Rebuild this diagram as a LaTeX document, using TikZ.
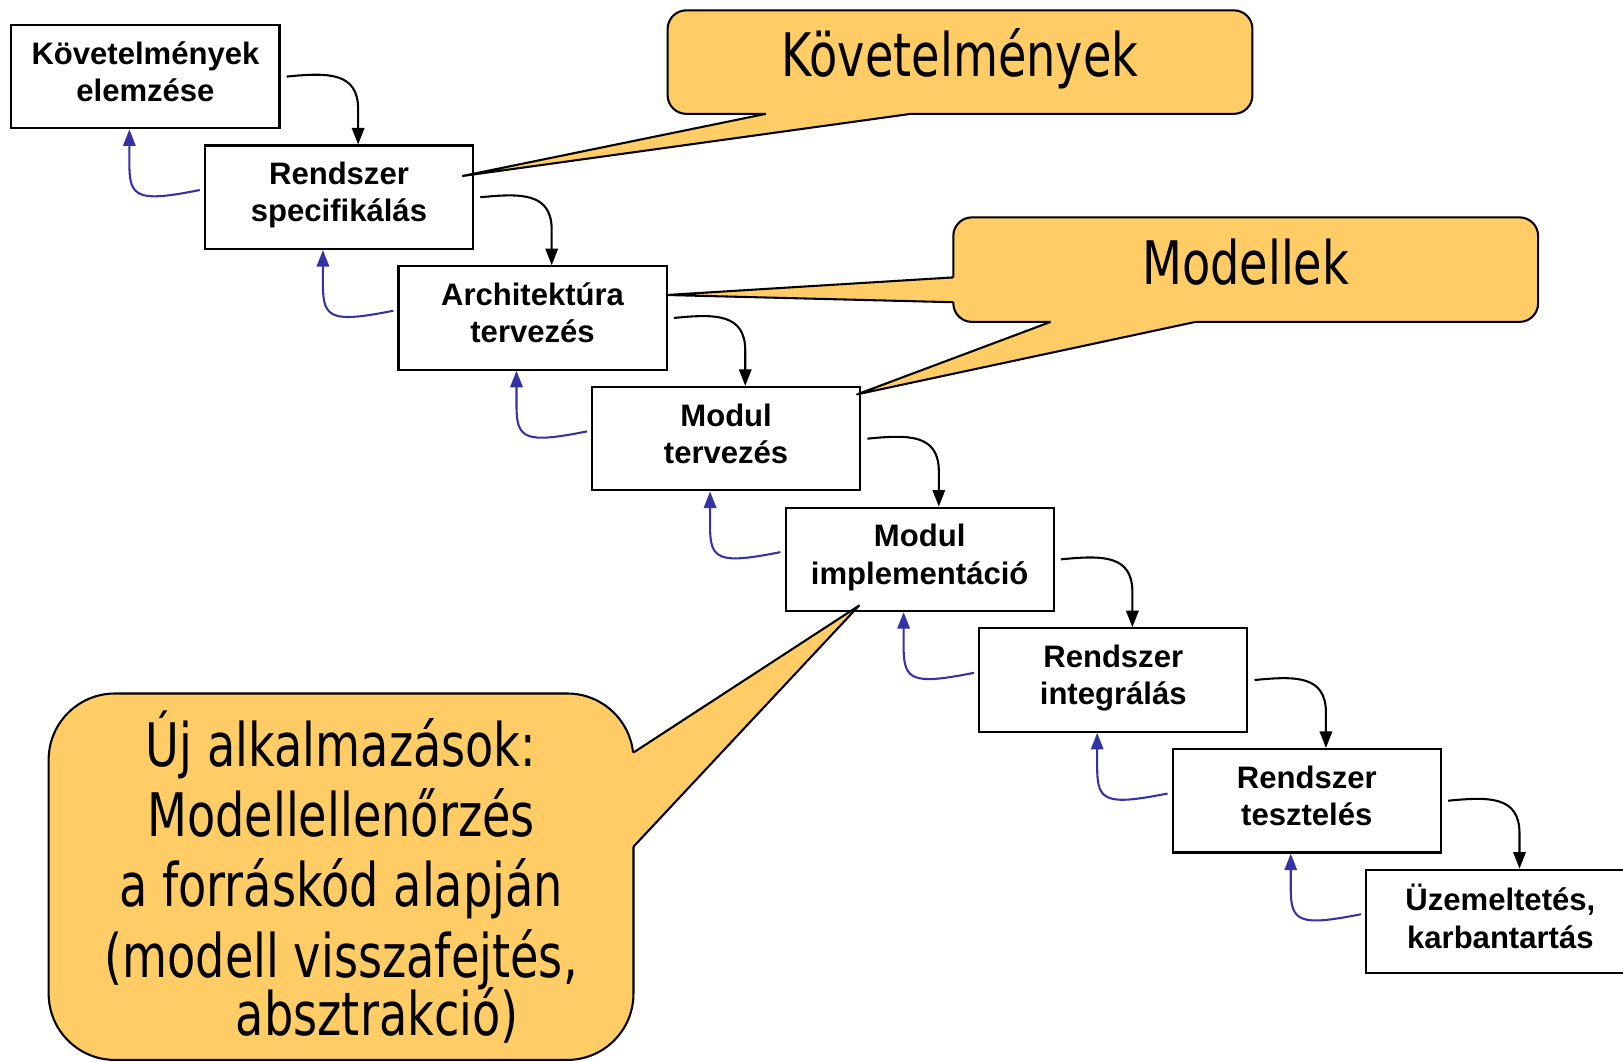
\documentclass[tikz,border=0pt]{standalone}
\usepackage{fontspec}
\setmainfont{Liberation Sans}
\newfontfamily\callfont[FakeStretch=0.77]{DejaVu Sans}
\usetikzlibrary{arrows.meta,calc}
\definecolor{callfill}{RGB}{255,204,102}
\definecolor{backblue}{RGB}{51,51,165}
\begin{document}
\begin{tikzpicture}[x=0.5pt,y=-0.5pt,
  stage/.style={draw, line width=1pt, fill=white, minimum width=129.5pt, minimum height=50pt,
    inner sep=0pt, align=center, text depth=5pt, font=\bfseries\fontsize{15}{18}\selectfont},
  fwd/.style={-{Triangle[length=8pt,width=6pt]}, line width=1pt, black},
  back/.style={-{Triangle[length=8pt,width=6pt]}, line width=1pt, backblue},
  callout/.style={draw, line width=1pt, fill=callfill, rounded corners=9pt, inner sep=0pt,
    align=center, font=\callfont\fontsize{29}{34}\selectfont},
  tailfill/.style={fill=callfill},
  tailline/.style={draw, line width=1pt, line join=round},
]
\useasboundingbox (0,0) rectangle (1568,1026);

% stages
\node[stage] (b1) at (140.5,74)    {Követelmények\\elemzése};
\node[stage] (b2) at (327.5,190.6) {Rendszer\\specifikálás};
\node[stage] (b3) at (514.5,307.2) {Architektúra\\tervezés};
\node[stage] (b4) at (701.5,423.8) {Modul\\tervezés};
\node[stage] (b5) at (888.5,540.4) {Modul\\implementáció};
\node[stage] (b6) at (1075.5,657)  {Rendszer\\integrálás};
\node[stage] (b7) at (1262.5,773.6){Rendszer\\tesztelés};
\node[stage] (b8) at (1449.5,890.2){Üzemeltetés,\\karbantartás};

% forward and backward arrows
\foreach \i/\j in {1/2,2/3,3/4,4/5,5/6,6/7,7/8} {
  \draw[fwd] ([xshift=3pt]b\i.east) .. controls +(20pt,2pt) and +(0,18pt) ..
    ([xshift=9.25pt,yshift=17pt]b\j.north) -- ([xshift=9.25pt]b\j.north);
  \draw[back] ([xshift=-2pt,yshift=3.5pt]b\j.west) .. controls +(-30pt,-6pt) and +(0,-16pt) ..
    ([xshift=-7.75pt,yshift=-17pt]b\i.south) -- ([xshift=-7.75pt]b\i.south);
}

% callouts
\node[callout, minimum width=282.5pt, minimum height=50pt, text height=16pt, text depth=2pt]
  (c1) at (927.5,60) {Követelmények};
\node[callout, minimum width=282.5pt, minimum height=50.5pt, text height=16pt, text depth=2pt]
  (c2) at (1203.5,260.5) {Modellek};
\node[callout, rounded corners=32pt, minimum width=282.5pt, minimum height=177pt]
  (c3) at (329.5,847) {Új alkalmazások:\\Modellellenőrzés\\a forráskód alapján\\(modell visszafejtés,\\[-6pt]\hspace*{35pt}absztrakció)};

% tail of c1
\coordinate (t1a) at (740,110); \coordinate (t1b) at (880,110);
\coordinate (t1tip) at (447,170);
\fill[tailfill] ($(t1a)+(0,-4)$) -- (t1a) -- (t1tip) -- (t1b) -- ($(t1b)+(0,-4)$) -- cycle;
\draw[tailline] (t1a) -- (t1tip) -- (t1b);

% tails of c2
\coordinate (t2a) at (921,268); \coordinate (t2b) at (921,292);
\coordinate (t2tip) at (644,285);
\fill[tailfill] ($(t2a)+(4,0)$) -- (t2a) -- (t2tip) -- (t2b) -- ($(t2b)+(4,0)$) -- cycle;
\draw[tailline] (t2a) -- (t2tip) -- (t2b);
\coordinate (t3a) at (1015,311); \coordinate (t3b) at (1155,311);
\coordinate (t3tip) at (828,381);
\fill[tailfill] ($(t3a)+(0,-4)$) -- (t3a) -- (t3tip) -- (t3b) -- ($(t3b)+(0,-4)$) -- cycle;
\draw[tailline] (t3a) -- (t3tip) -- (t3b);

% tail of c3
\coordinate (t4a) at (612,727); \coordinate (t4b) at (612,818);
\coordinate (t4tip) at (830,585);
\fill[tailfill] ($(t4a)+(-4,0)$) -- (t4a) -- (t4tip) -- (t4b) -- ($(t4b)+(-4,0)$) -- cycle;
\draw[tailline] (t4a) -- (t4tip) -- (t4b);
\end{tikzpicture}
\end{document}
